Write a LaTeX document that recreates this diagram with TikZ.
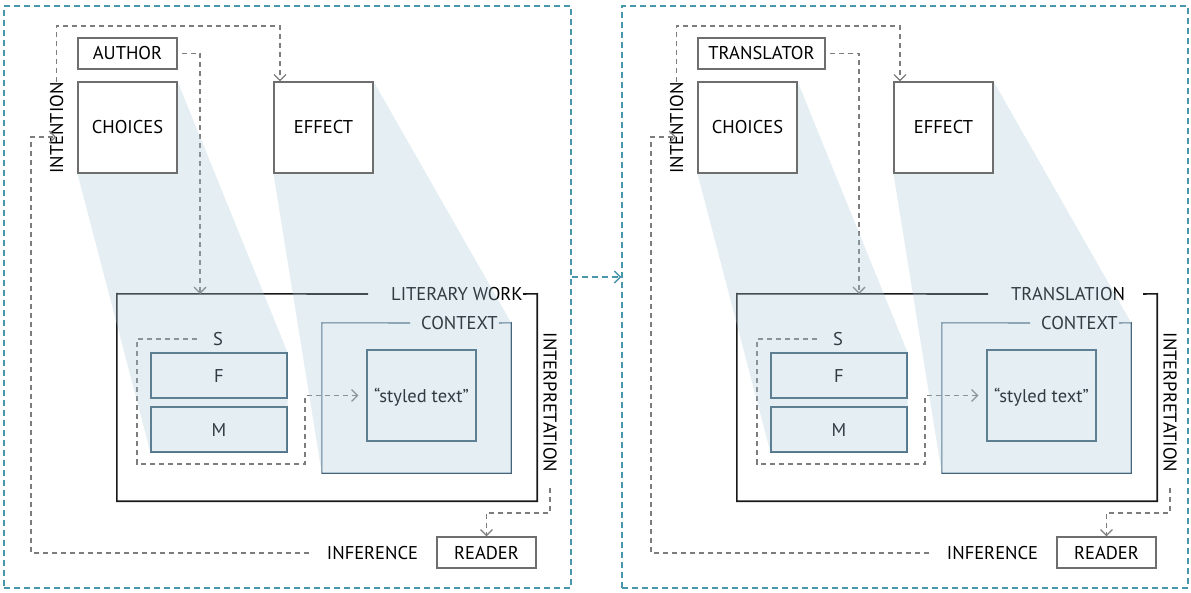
\documentclass[tikz,border=0pt]{standalone}
\usepackage{fontspec}
\setmainfont{PT Sans}
\usetikzlibrary{arrows.meta}
\definecolor{panelc}{RGB}{74,150,170}
\definecolor{connc}{RGB}{125,125,125}
\definecolor{boxc}{RGB}{110,110,110}
\definecolor{slatec}{RGB}{64,97,119}
\definecolor{shadec}{RGB}{165,198,215}
\definecolor{framec}{RGB}{25,25,25}
\pgfdeclarelayer{shadelayer}
\pgfdeclarelayer{toplayer}
\pgfsetlayers{main,shadelayer,toplayer}
\tikzset{
  lbl/.style={inner sep=0pt, text height=13pt, text depth=0pt, font=\fontsize{18.5}{20}\selectfont},
  box/.style={lbl, draw=boxc, line width=1.1pt, fill=white},
  sbox/.style={lbl, draw=slatec, line width=1.1pt},
  frame/.style={draw=framec, line width=1.6pt},
  sline/.style={draw=slatec, line width=1.1pt},
  conn/.style={draw=connc, line width=1.3pt, dash pattern=on 5pt off 4pt, -{Straight Barb[length=6pt,width=12pt]}},
  shadefill/.style={fill=shadec, fill opacity=0.3},
  panel/.style={draw=panelc, line width=1.4pt, dash pattern=on 6pt off 4pt, inner sep=0pt},
  pconn/.style={draw=panelc, line width=1.4pt, dash pattern=on 6pt off 4pt, -{Straight Barb[length=6pt,width=12pt]}},
}
% #1 prefix, #2 xshift, #3 agent, #4 agent centre x, #5 agent width, #6 arrow x, #7 work label
\newcommand\litpanel[7]{%
\begin{scope}[xshift=#2pt]
  \begin{pgfonlayer}{toplayer}
    \node[box, minimum width=99pt, minimum height=91pt] (#1ch) at (127.5,127.5) {CHOICES};
    \node[box, minimum width=99pt, minimum height=91pt] (#1ef) at (323.5,127.5) {EFFECT};
  \end{pgfonlayer}
  \node[box, minimum width=#5pt, minimum height=31pt] (#1ag) at (#4,53.5) {#3};
  \node[lbl, rotate=90] (#1int) at (56.5,128) {INTENTION};
  \node[lbl, rotate=-90] (#1itp) at (550,402.5) {INTERPRETATION};
  \node[box, minimum width=99pt, minimum height=31pt] (#1rd) at (486.5,552.5) {READER};
  \node[lbl] (#1inf) at (372.5,553) {INFERENCE};
  \node[inner sep=0pt, minimum width=420pt, minimum height=207pt] (#1wk) at (327,397.5) {};
  \node[lbl, anchor=west] (#1wkl) at (391,294) {#7};
  \node[inner sep=0pt, minimum width=189pt, minimum height=150pt] (#1ctx) at (416.5,398) {};
  \node[lbl, anchor=west] (#1ctxl) at (421,323) {CONTEXT};
  \node[sbox, minimum width=109pt, minimum height=91pt] (#1st) at (421.5,395.5) {“styled text”};
  \node[sbox, minimum width=136pt, minimum height=45pt] (#1F) at (219,375.5) {F};
  \node[sbox, minimum width=136pt, minimum height=45pt] (#1M) at (219,429.5) {M};
  \node[lbl] (#1S) at (218,339) {S};
  \coordinate (#1-w1) at (368,294);
  \coordinate (#1-w2) at (523,294);
  \coordinate (#1-c1) at (410,323);
  \coordinate (#1-c2) at (499,323);
  \coordinate (#1-t1) at (280,26);
  \coordinate (#1-a1) at (#6,294);
  \coordinate (#1-i1) at (31,137);
  \coordinate (#1-r1) at (488,513);
  \coordinate (#1-s1) at (137,339);
  \coordinate (#1-s2) at (137,464);
  \coordinate (#1-s3) at (305,464);
  \coordinate (#1-s4) at (305,395.5);
  \draw[frame] (#1-w1) -- (#1wk.north west) -- (#1wk.south west) -- (#1wk.south east) -- (#1wk.north east) -- (#1-w2);
  \draw[sline] (#1-c1) -- (#1ctx.north west) -- (#1ctx.south west) -- (#1ctx.south east) -- (#1ctx.north east) -- (#1-c2);
  \draw[conn] (#1int.east) |- (#1-t1) -- (#1ef.north -| #1-t1);
  \draw[conn] ([xshift=4pt]#1ag.east) -| (#1-a1);
  \draw[conn, shorten <=18pt, shorten >=7pt] (#1inf.west) -| (#1-i1) -- (#1int.south |- #1-i1);
  \draw[conn, shorten <=15pt] (#1itp.east) |- (#1-r1) -| (#1rd.north);
  \draw[conn, shorten <=16pt, shorten >=8pt] (#1S.west) -- (#1-s1) -- (#1-s2) -- (#1-s3) -- (#1-s4) -- (#1st.west);
  \begin{pgfonlayer}{shadelayer}
    \fill[shadefill] (#1ch.south west) -- (#1ch.north east) -- (#1F.north east) -- (#1M.south east) -- (#1M.south west) -- cycle;
    \fill[shadefill] (#1ef.south west) -- (#1ef.north east) -- (#1ctx.north east) -- (#1ctx.south east) -- (#1ctx.south west) -- cycle;
  \end{pgfonlayer}
\end{scope}}
\begin{document}
\begin{tikzpicture}[x=1pt,y=-1pt]
  \useasboundingbox (0,0) rectangle (1191,593);
  \node[panel, minimum width=567pt, minimum height=582pt] (P1) at (287.5,297) {};
  \node[panel, minimum width=566pt, minimum height=582pt] (P2) at (905,297) {};
  \coordinate (mid) at (596,277);
  \draw[pconn] (P1.east |- mid) -- (P2.west |- mid);
  \litpanel{L}{0}{AUTHOR}{127.5}{99}{200}{LITERARY WORK}
  \litpanel{R}{620}{TRANSLATOR}{141.5}{127}{239}{TRANSLATION}
\end{tikzpicture}
\end{document}
